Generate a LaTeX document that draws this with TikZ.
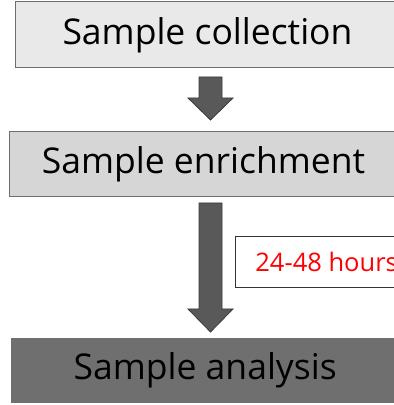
\documentclass[tikz,border=0pt]{standalone}
\usepackage{fontspec}
\setmainfont{Open Sans}
\usepackage{xcolor}
\usetikzlibrary{calc, positioning}
\definecolor{boxlight}{RGB}{233,233,233}
\definecolor{boxmid}{RGB}{214,214,214}
\definecolor{boxdark}{RGB}{111,111,111}
\definecolor{boxedge}{RGB}{110,110,110}
\definecolor{arrowfill}{RGB}{89,89,89}
\definecolor{arrowedge}{RGB}{58,58,58}
\definecolor{labelred}{RGB}{255,0,0}
\tikzset{
  stepbox/.style={
    rectangle, anchor=west, minimum height=65pt, inner sep=0pt,
    text centered, font=\fontsize{35.5}{40}\selectfont, text=black
  },
  blockarrow/.style={fill=arrowfill, draw=arrowedge, line width=0.8pt, line join=miter},
  timebox/.style={
    rectangle, anchor=west, minimum height=51pt, inner xsep=20pt,
    draw=black!80, fill=white, line width=0.8pt,
    font=\fontsize{25.5}{30}\selectfont, text=labelred
  }
}

\begin{document}
\begin{tikzpicture}[x=1pt, y=1pt]
    % page frame
    \useasboundingbox (0,0) rectangle (394,405);
    \clip (0,0) rectangle (394,405);

    \node[stepbox, fill=boxlight, draw=boxedge, line width=1pt, minimum width=384pt, minimum height=66pt] (collect) at (15,370) {Sample collection};
    \node[stepbox, fill=boxmid, draw=boxedge, line width=1pt, minimum width=388pt] (enrich) at (9,240.5) {Sample enrichment};
    \node[stepbox, fill=boxdark, minimum width=388pt] (analysis) at (11,34.5) {Sample analysis};
    \node[timebox] (hours) at (235,143.5) {24-48 hours};

    % block arrows between the steps
    \coordinate (a1s) at (210.5,328);
    \coordinate (a1t) at (210.5,285);
    \coordinate (a2s) at (210.5,202);
    \coordinate (a2t) at (210.5,73);

    \draw[blockarrow] ($(a1s)+(-11.5,0)$) -- ($(a1t)+(-11.5,22)$) -- ($(a1t)+(-22.5,22)$)
      -- (a1t) -- ($(a1t)+(22.5,22)$) -- ($(a1t)+(11.5,22)$) -- ($(a1s)+(11.5,0)$) -- cycle;
    \draw[blockarrow] ($(a2s)+(-11.5,0)$) -- ($(a2t)+(-11.5,23)$) -- ($(a2t)+(-22.5,23)$)
      -- (a2t) -- ($(a2t)+(22.5,23)$) -- ($(a2t)+(11.5,23)$) -- ($(a2s)+(11.5,0)$) -- cycle;
\end{tikzpicture}
\end{document}
